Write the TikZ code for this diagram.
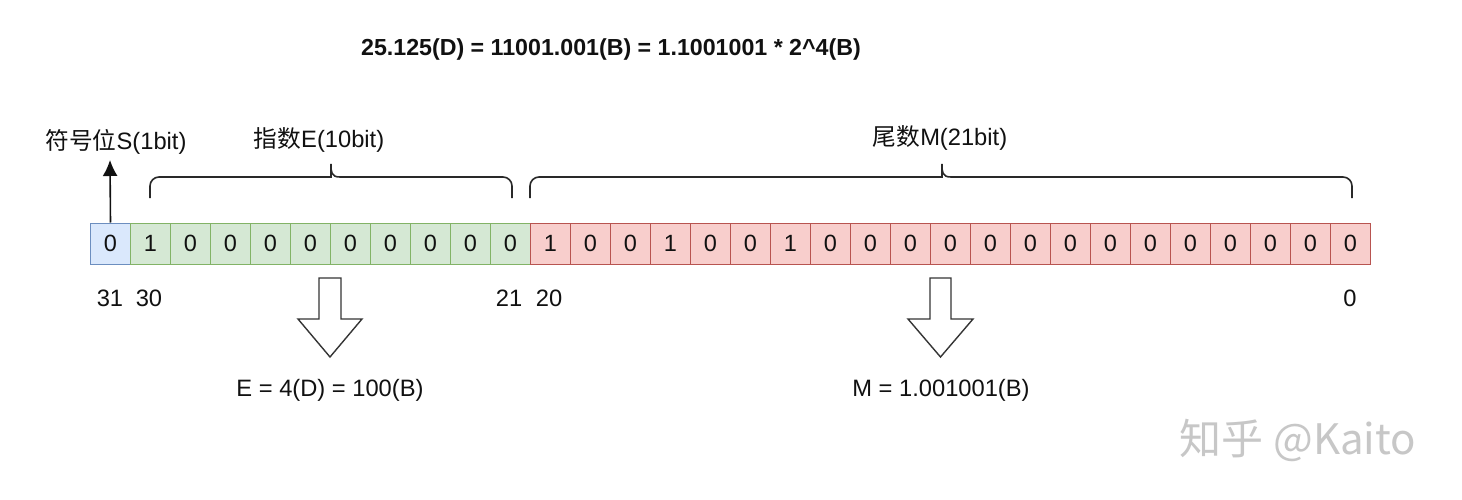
\documentclass[tikz,border=0pt]{standalone}
\usepackage{fontspec}
\usetikzlibrary{arrows.meta}
\setmainfont{Liberation Sans}
\newfontfamily\cjk{Noto Sans CJK SC}
\definecolor{sfill}{HTML}{DAE8FC}\definecolor{sdraw}{HTML}{6C8EBF}
\definecolor{efill}{HTML}{D5E8D4}\definecolor{edraw}{HTML}{82B366}
\definecolor{mfill}{HTML}{F8CECC}\definecolor{mdraw}{HTML}{B85450}
\definecolor{txt}{HTML}{111111}
\tikzset{
  cell/.style={draw, line width=1pt, minimum width=40pt, minimum height=41pt, inner sep=0pt, anchor=west, text=txt, font=\fontsize{23.5}{26}\selectfont},
  scell/.style={cell, fill=sfill, draw=sdraw},
  ecell/.style={cell, fill=efill, draw=edraw},
  mcell/.style={cell, fill=mfill, draw=mdraw},
  lbl/.style={text=txt, font=\fontsize{23.7}{26}\selectfont, inner sep=0pt},
  brace/.style={line width=1.6pt, draw=txt!90},
  blockarrow/.style={line width=1.4pt, draw=txt!85, fill=white, line join=miter},
}
\begin{document}
\begin{tikzpicture}[x=1pt,y=-1pt]
\useasboundingbox (0,0) rectangle (1462,500);
\fill[white] (0,0) rectangle (1462,500);
% title
\node[lbl, font=\bfseries\fontsize{23.2}{26}\selectfont] (title) at (611,50) {25.125(D) = 11001.001(B) = 1.1001001 * 2\^{}4(B)};
% cells
\node[scell] (c31) at (90,243.5) {0};
\foreach \v [count=\i from 0] in {1,0,0,0,0,0,0,0,0,0} {
  \pgfmathtruncatemacro{\b}{30-\i}
  \node[ecell] (c\b) at ({130+40*\i},243.5) {\v};
}
\foreach \v [count=\i from 0] in {1,0,0,1,0,0,1,0,0,0,0,0,0,0,0,0,0,0,0,0,0} {
  \pgfmathtruncatemacro{\b}{20-\i}
  \node[mcell] (c\b) at ({530+40*\i},243.5) {\v};
}
% bit numbers
\node[lbl] (n31) at (110,298) {31};
\node[lbl] (n30) at (149,298) {30};
\node[lbl] (n21) at (509,298) {21};
\node[lbl] (n20) at (549,298) {20};
\node[lbl] (n0) at (1350,298) {0};
% sign label and arrow
\node[lbl] (slbl) at (116,142) {{\cjk 符号位}S(1bit)};
\coordinate (stip) at (110,160);
\draw[line width=1.6pt, draw=txt, -{Latex[length=16pt,width=15pt]}] (c31.north) -- (stip);
% exponent brace
\node[lbl] (elbl) at (319,140) {{\cjk 指数}E(10bit)};
\draw[brace] (150,198) [rounded corners=9pt] -- (150,177) -- (322,177) [sharp corners] .. controls (331,177) and (331,172) .. (331,164) .. controls (331,172) and (331,177) .. (340,177) [rounded corners=9pt] -- (512,177) -- (512,198);
% mantissa brace
\node[lbl] (mlbl) at (940,138) {{\cjk 尾数}M(21bit)};
\draw[brace] (530,198) [rounded corners=9pt] -- (530,177) -- (933,177) [sharp corners] .. controls (942,177) and (942,172) .. (942,164) .. controls (942,172) and (942,177) .. (951,177) [rounded corners=9pt] -- (1352,177) -- (1352,198);
% block arrows
\draw[blockarrow] (319,278) -- (341,278) -- (341,319) -- (362,319) -- (330,357) -- (298,319) -- (319,319) -- cycle;
\draw[blockarrow] (930,278) -- (951,278) -- (951,319) -- (973,319) -- (940.5,357) -- (908,319) -- (930,319) -- cycle;
% results
\node[lbl] (eres) at (330,390) {E = 4(D) = 100(B)};
\node[lbl] (mres) at (941,390) {M = 1.001001(B)};
% watermark
\node[inner sep=0pt, text=black!22, font=\cjk\fontsize{42}{46}\selectfont] (wm) at (1298,440) {知乎 @Kaito};
\end{tikzpicture}
\end{document}
